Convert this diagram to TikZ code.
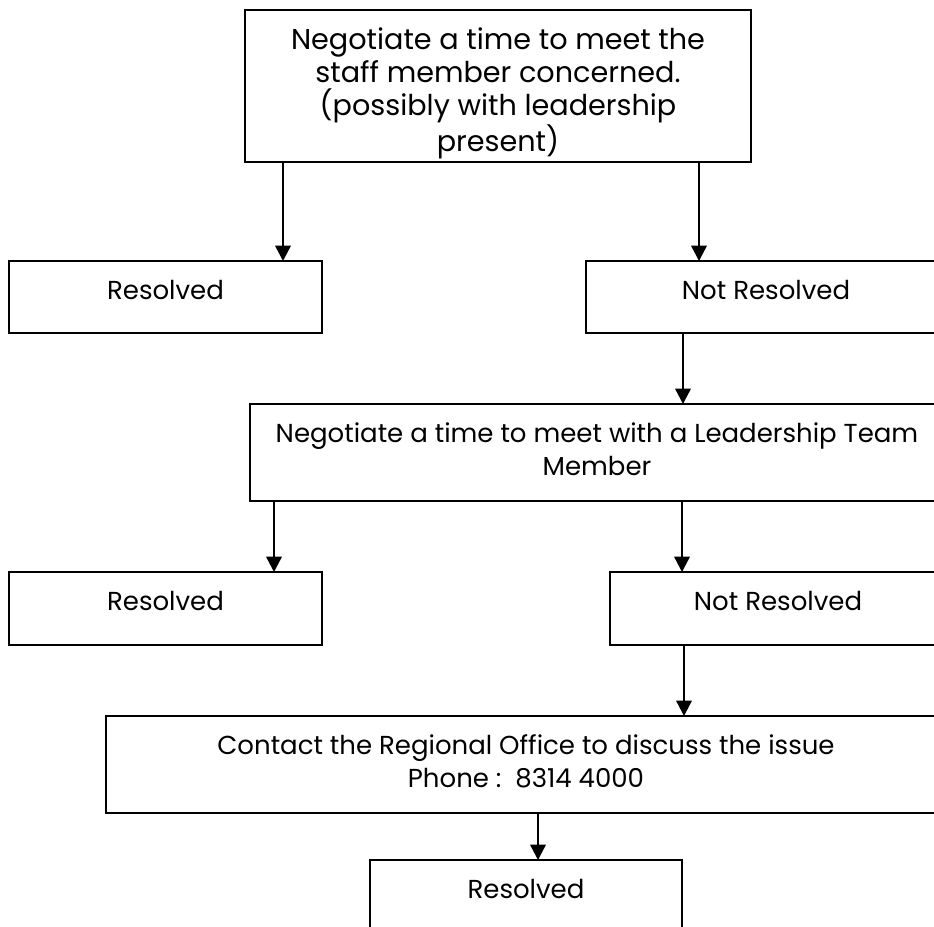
\documentclass[tikz,border=0pt]{standalone}
\usepackage{fontspec}
\setmainfont{Poppins}
\usetikzlibrary{arrows.meta}
\begin{document}
\begin{tikzpicture}[x=0.75pt,y=-0.75pt,
  box/.style={draw,line width=1.5pt,inner sep=0pt,outer sep=0pt,anchor=north west},
  txt/.style={align=center,inner sep=0pt,anchor=north,font=\fontsize{19.5}{24.5}\selectfont},
  bigtxt/.style={txt,font=\fontsize{21.5}{25}\selectfont},
  arr/.style={line width=1.8pt,-{Triangle[length=11.5pt,width=11.5pt]}}]
\useasboundingbox (0,0) rectangle (934,926);
\clip (0,0) rectangle (934,926);
% boxes
\node[box,minimum width=379.5pt,minimum height=114pt] (b1) at (245,10) {};
\node[box,minimum width=234.75pt,minimum height=54pt] (r1) at (9,261) {};
\node[box,minimum width=270pt,minimum height=54pt] (nr1) at (586,261) {};
\node[box,minimum width=522pt,minimum height=72.75pt] (mid) at (250,404) {};
\node[box,minimum width=234.75pt,minimum height=54.75pt] (r2) at (9,572) {};
\node[box,minimum width=252pt,minimum height=54.75pt] (nr2) at (610,572) {};
\node[box,minimum width=630pt,minimum height=72.75pt] (con) at (106,716) {};
\node[box,minimum width=234pt,minimum height=75pt] (r3) at (370,860) {};
% texts
\node[bigtxt] (b1t) at (498,27) {Negotiate a time to meet the\\staff member concerned.\\(possibly with leadership\\present)};
\node[txt] (r1t) at (165.5,280) {Resolved};
\node[txt] (nr1t) at (766,280) {Not Resolved};
\node[txt] (midt) at (597,422.5) {Negotiate a time to meet with a Leadership Team\\Member};
\node[txt] (r2t) at (165.5,591) {Resolved};
\node[txt] (nr2t) at (778,591) {Not Resolved};
\node[txt] (cont) at (526,734.5) {Contact the Regional Office to discuss the issue\\Phone :\ \ 8314 4000};
\node[txt] (r3t) at (526,879) {Resolved};
% arrow x positions
\coordinate (x1) at (283,0);
\coordinate (x2) at (699,0);
\coordinate (x3) at (683,0);
\coordinate (x4) at (274,0);
\coordinate (x5) at (682,0);
\coordinate (x6) at (684,0);
\coordinate (x7) at (538,0);
% arrows
\draw[arr] (b1.south -| x1) -- (r1.north -| x1);
\draw[arr] (b1.south -| x2) -- (nr1.north -| x2);
\draw[arr] (nr1.south -| x3) -- (mid.north -| x3);
\draw[arr] (mid.south -| x4) -- (r2.north -| x4);
\draw[arr] (mid.south -| x5) -- (nr2.north -| x5);
\draw[arr] (nr2.south -| x6) -- (con.north -| x6);
\draw[arr] (con.south -| x7) -- (r3.north -| x7);
\end{tikzpicture}
\end{document}
